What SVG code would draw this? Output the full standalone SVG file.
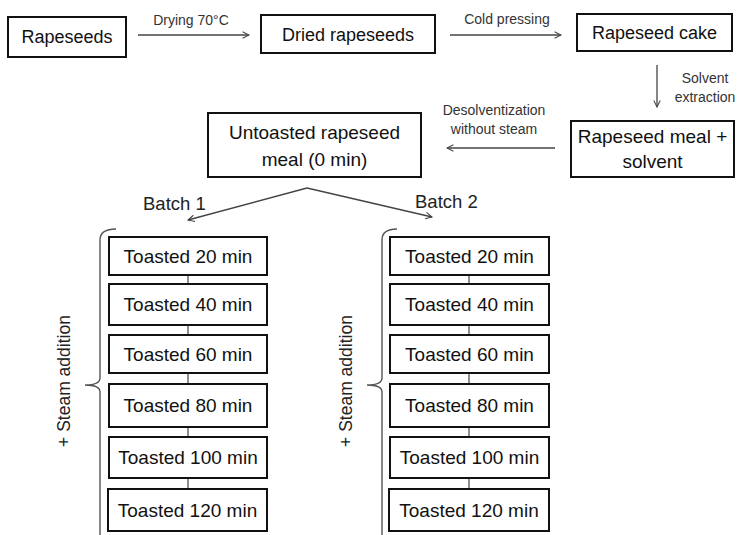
<svg xmlns="http://www.w3.org/2000/svg" width="740" height="535" viewBox="0 0 740 535">
<defs>
<style>
.box{fill:#fff;stroke:#111;stroke-width:2}
.t{font-family:"Liberation Sans",Arial,sans-serif;font-size:19px;fill:#111;text-anchor:middle}
.t18{font-size:18px}
.lbl{font-family:"Liberation Sans",Arial,sans-serif;font-size:14px;fill:#333;text-anchor:middle}
.bl{font-family:"Liberation Sans",Arial,sans-serif;font-size:18.5px;fill:#222}
.st{font-family:"Liberation Sans",Arial,sans-serif;font-size:17.5px;fill:#222;text-anchor:middle}
.ar{fill:none;stroke:#444;stroke-width:1.3;marker-end:url(#ah)}
.ln{fill:none;stroke:#444;stroke-width:1.2}
.br{fill:none;stroke:#555;stroke-width:1.4}
</style>
<marker id="ah" viewBox="0 0 10 10" refX="9" refY="5" markerWidth="8" markerHeight="8" markerUnits="userSpaceOnUse" orient="auto">
<path d="M1,1 L9,5 L1,9" fill="none" stroke="#444" stroke-width="1.3"/>
</marker>
</defs>
<rect width="740" height="535" fill="#fff"/>

<g id="connectors">
<line class="ar" x1="138" y1="35" x2="249" y2="35"/>
<line class="ar" x1="450" y1="35" x2="561" y2="35"/>
<line class="ar" x1="657" y1="65" x2="657" y2="107"/>
<line class="ar" x1="555" y1="148" x2="447" y2="148"/>
<line class="ar" x1="307" y1="188" x2="188" y2="220"/>
<line class="ar" x1="307" y1="188" x2="432" y2="217"/>
<line class="ln" x1="188" y1="275" x2="188" y2="284"/>
<line class="ln" x1="188" y1="325" x2="188" y2="335"/>
<line class="ln" x1="188" y1="373" x2="188" y2="384"/>
<line class="ln" x1="188" y1="427" x2="188" y2="437"/>
<line class="ln" x1="188" y1="478" x2="188" y2="489"/>
<line class="ln" x1="469" y1="275" x2="469" y2="284"/>
<line class="ln" x1="469" y1="325" x2="469" y2="335"/>
<line class="ln" x1="469" y1="373" x2="469" y2="384"/>
<line class="ln" x1="469" y1="427" x2="469" y2="437"/>
<line class="ln" x1="469" y1="478" x2="469" y2="489"/>
<text class="lbl" x="191" y="25">Drying 70°C</text>
<text class="lbl" x="507" y="24">Cold pressing</text>
<text class="lbl" x="705" y="83">Solvent</text>
<text class="lbl" x="705" y="102">extraction</text>
<text class="lbl" x="494" y="115">Desolventization</text>
<text class="lbl" x="494" y="134">without steam</text>
<text class="bl" x="143" y="210">Batch 1</text>
<text class="bl" x="415" y="208">Batch 2</text>
</g>

<g id="n-rapeseeds"><rect class="box" x="8" y="17" width="118" height="40"/><text class="t t18" x="67" y="43">Rapeseeds</text></g>
<g id="n-dried"><rect class="box" x="261" y="15" width="174" height="38"/><text class="t t18" x="348" y="41">Dried rapeseeds</text></g>
<g id="n-cake"><rect class="box" x="577" y="14" width="155" height="37"/><text class="t t18" x="654.5" y="39">Rapeseed cake</text></g>
<g id="n-meal"><rect class="box" x="571" y="121" width="163" height="56"/><text class="t" x="652.5" y="143">Rapeseed meal +</text><text class="t" x="652.5" y="168">solvent</text></g>
<g id="n-untoasted"><rect class="box" x="208" y="113" width="213" height="64"/><text class="t" x="314.5" y="139">Untoasted rapeseed</text><text class="t" x="314.5" y="166">meal (0 min)</text></g>

<g id="batch1">
<path class="br" d="M116,229 Q100,229 100,240 L100,378 Q100,385 85,385 Q100,385 100,392 L100,535"/>
<text class="st" transform="translate(70,381) rotate(-90)">+ Steam addition</text>
<g id="b1-20"><rect class="box" x="109" y="237" width="158" height="38"/><text class="t" x="188" y="263">Toasted 20 min</text></g>
<g id="b1-40"><rect class="box" x="109" y="284" width="158" height="41"/><text class="t" x="188" y="311">Toasted 40 min</text></g>
<g id="b1-60"><rect class="box" x="109" y="335" width="158" height="38"/><text class="t" x="188" y="361">Toasted 60 min</text></g>
<g id="b1-80"><rect class="box" x="109" y="384" width="158" height="43"/><text class="t" x="188" y="412">Toasted 80 min</text></g>
<g id="b1-100"><rect class="box" x="109" y="437" width="158" height="41"/><text class="t" x="188" y="464">Toasted 100 min</text></g>
<g id="b1-120"><rect class="box" x="108" y="489" width="159" height="42"/><text class="t" x="187.5" y="517">Toasted 120 min</text></g>
</g>

<g id="batch2">
<path class="br" d="M397,229 Q382,229 382,240 L382,378 Q382,385 367,385 Q382,385 382,392 L382,535"/>
<text class="st" transform="translate(352,381) rotate(-90)">+ Steam addition</text>
<g id="b2-20"><rect class="box" x="390" y="237" width="159" height="38"/><text class="t" x="469.5" y="263">Toasted 20 min</text></g>
<g id="b2-40"><rect class="box" x="390" y="284" width="159" height="41"/><text class="t" x="469.5" y="311">Toasted 40 min</text></g>
<g id="b2-60"><rect class="box" x="390" y="335" width="159" height="38"/><text class="t" x="469.5" y="361">Toasted 60 min</text></g>
<g id="b2-80"><rect class="box" x="390" y="384" width="159" height="43"/><text class="t" x="469.5" y="412">Toasted 80 min</text></g>
<g id="b2-100"><rect class="box" x="390" y="437" width="159" height="41"/><text class="t" x="469.5" y="464">Toasted 100 min</text></g>
<g id="b2-120"><rect class="box" x="389" y="489" width="160" height="42"/><text class="t" x="469" y="517">Toasted 120 min</text></g>
</g>
</svg>
